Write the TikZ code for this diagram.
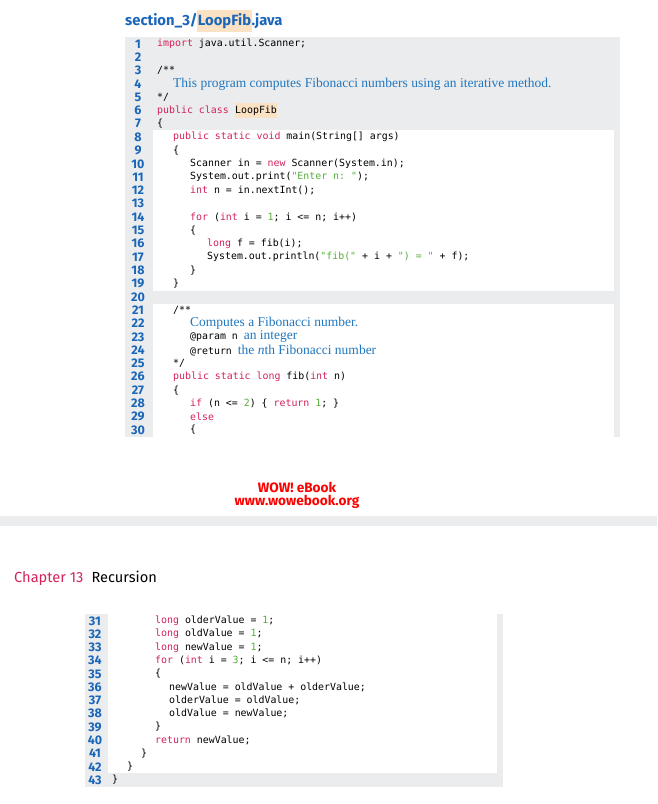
\documentclass[tikz,border=0pt]{standalone}
\usepackage{fontspec}
\setmainfont{Liberation Serif}
\setsansfont{Fira Sans}
\setmonofont{DejaVu Sans Mono}
\definecolor{kw}{HTML}{D2235A}
\definecolor{nm}{HTML}{55B03A}
\definecolor{cm}{HTML}{2177BE}
\definecolor{ln}{HTML}{1A66B8}
\definecolor{bg}{HTML}{EBECEE}
\definecolor{hl}{HTML}{FCE2C4}
\newcommand{\kw}[1]{\textcolor{kw}{#1}}
\newcommand{\nm}[1]{\textcolor{nm}{#1}}
\newcommand{\cmt}[1]{{\rmfamily\fontsize{13.5}{15}\selectfont\textcolor{cm}{#1}}}
\begin{document}
\begin{tikzpicture}[x=1pt,y=-1pt,
  code/.style={anchor=west,inner sep=0pt,font=\ttfamily\fontsize{9.9}{12}\selectfont},
  lnum/.style={anchor=center,inner sep=0pt,text=ln,font=\sffamily\bfseries\fontsize{12.5}{13}\selectfont}]
\useasboundingbox (0,0) rectangle (657,804);
% top block
\fill[bg] (125,37) rectangle (620,437);
\fill[white] (153,130) rectangle (614,291);
\fill[white] (153,304) rectangle (614,437);
\node[anchor=west,inner sep=0pt,text=ln,font=\sffamily\bfseries\fontsize{14.8}{16}\selectfont] (title) at (125,21) {section\_3/\colorbox{hl}{\kern-2.5pt LoopFib\kern-2.5pt}.java};
\foreach \i in {1,...,30}{\node[lnum] (n\i) at (138,{44+(\i-1)*13.31}) {\i};}
\newcommand{\cl}[3]{\node[code] (l#1) at (#2,{44+(#1-1)*13.31}) {#3};}
\newcommand{\bl}[3]{\node[code] (l#1) at (#2,{621+(#1-31)*13.25}) {#3};}
\cl{1}{157}{\kw{import} java.util.Scanner;}
\cl{3}{157}{/**}
\cl{4}{173}{\cmt{This program computes Fibonacci numbers using an iterative method.}}
\cl{5}{157}{*/}
\cl{6}{157}{\kw{public class} \colorbox{hl}{\kern-2.5pt LoopFib\kern-2.5pt}}
\cl{7}{157}{\{}
\cl{8}{173}{\kw{public static void} main(String[] args)}
\cl{9}{173}{\{}
\cl{10}{190}{Scanner in = \kw{new} Scanner(System.in);}
\cl{11}{190}{System.out.print(\nm{"Enter n: "});}
\cl{12}{190}{\kw{int} n = in.nextInt();}
\cl{14}{190}{\kw{for} (\kw{int} i = \nm{1}; i <= n; i++)}
\cl{15}{190}{\{}
\cl{16}{207}{\kw{long} f = fib(i);}
\cl{17}{207}{System.out.println(\nm{"fib("} + i + \nm{") = "} + f);}
\cl{18}{190}{\}}
\cl{19}{173}{\}}
\cl{21}{173}{/**}
\cl{22}{190}{\cmt{Computes a Fibonacci number.}}
\cl{23}{190}{@param n \cmt{an integer}}
\cl{24}{190}{@return \cmt{the \textit{n}th Fibonacci number}}
\cl{25}{173}{*/}
\cl{26}{173}{\kw{public static long} fib(\kw{int} n)}
\cl{27}{173}{\{}
\cl{28}{190}{\kw{if} (n <= \nm{2}) \{ \kw{return} \nm{1}; \}}
\cl{29}{190}{\kw{else}}
\cl{30}{190}{\{}
% watermark
\node[text=red,font=\sffamily\bfseries\fontsize{13.6}{14}\selectfont,inner sep=0pt] (w1) at (297,487) {WOW! eBook};
\node[text=red,font=\sffamily\bfseries\fontsize{13.6}{14}\selectfont,inner sep=0pt] (w2) at (297,502) {www.wowebook.org};
\fill[bg] (0,516) rectangle (657,526);
\node[anchor=west,inner sep=0pt,font=\sffamily\fontsize{14.6}{16}\selectfont] (ch) at (14,578) {\textcolor{kw}{Chapter 13}\hspace{8pt}Recursion};
% bottom block
\fill[bg] (85,614) rectangle (503,787);
\fill[white] (108,614) rectangle (497,773);
\foreach \i in {31,...,43}{\node[lnum] (n\i) at (95,{621+(\i-31)*13.25}) {\i};}
\bl{31}{155}{\kw{long} olderValue = \nm{1};}
\bl{32}{155}{\kw{long} oldValue = \nm{1};}
\bl{33}{155}{\kw{long} newValue = \nm{1};}
\bl{34}{155}{\kw{for} (\kw{int} i = \nm{3}; i <= n; i++)}
\bl{35}{155}{\{}
\bl{36}{169}{newValue = oldValue + olderValue;}
\bl{37}{169}{olderValue = oldValue;}
\bl{38}{169}{oldValue = newValue;}
\bl{39}{155}{\}}
\bl{40}{155}{\kw{return} newValue;}
\bl{41}{141}{\}}
\bl{42}{127}{\}}
\bl{43}{112}{\}}
\end{tikzpicture}
\end{document}
